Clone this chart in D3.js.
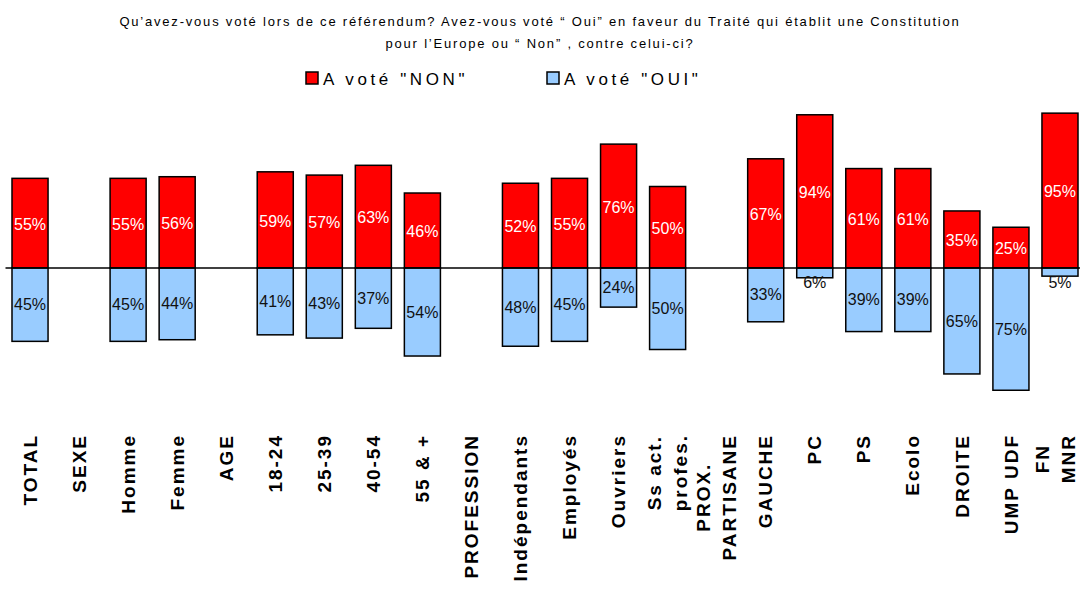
<!DOCTYPE html>
<html>
<head>
<meta charset="utf-8">
<script src="https://cdn.jsdelivr.net/npm/d3@7"></script>
<style>
  html, body { margin: 0; padding: 0; background: #fff; }
  svg { display: block; font-family: "Liberation Sans", Arial, sans-serif; }
</style>
</head>
<body>
<svg id="chart" width="1080" height="596"></svg>
<script>
// Référendum 2005 — vote NON / OUI par catégorie
const categories = ['TOTAL', 'SEXE', 'Homme', 'Femme', 'AGE', '18-24', '25-39', '40-54', '55 & +',
    'PROFESSION', 'Indépendants', 'Employés', 'Ouvriers', 'Ss act. profes.', 'PROX. PARTISANE',
    'GAUCHE', 'PC', 'PS', 'Ecolo', 'DROITE', 'UMP UDF', 'FN MNR'];
// tick labels, split where the original wraps
const tickLines = [['TOTAL'], ['SEXE'], ['Homme'], ['Femme'], ['AGE'], ['18-24'], ['25-39'], ['40-54'], ['55 & +'],
    ['PROFESSION'], ['Indépendants'], ['Employés'], ['Ouvriers'], ['Ss act.', 'profes.'], ['PROX.', 'PARTISANE'],
    ['GAUCHE'], ['PC'], ['PS'], ['Ecolo'], ['DROITE'], ['UMP UDF'], ['FN', 'MNR']];
const voteNon = [55, null, 55, 56, null, 59, 57, 63, 46, null, 52, 55, 76, 50, null, 67, 94, 61, 61, 35, 25, 95];
const voteOui = [45, null, 45, 44, null, 41, 43, 37, 54, null, 48, 45, 24, 50, null, 33, 6, 39, 39, 65, 75, 5];
const seriesNames = ['A voté "NON"', 'A voté "OUI"'];
const titleLines = [
    'Qu\u2019avez-vous voté lors de ce référendum? Avez-vous voté \u201c Oui\u201d  en faveur du Traité qui établit une Constitution',
    'pour l\u2019Europe ou \u201c Non\u201d , contre celui-ci?'
];

const RED = '#ff0000', BLUE = '#99ccff';
const W = 1080;
const svg = d3.select('#chart');

const x = d3.scaleBand()
    .domain(categories)
    .range([5.5, 1084.5])
    .paddingInner(0.265)
    .paddingOuter(0.1325);

// NON up, OUI down, shared zero line
const y = d3.scaleLinear().domain([-100, 100]).range([431, 105]);

// Title
svg.append('g').selectAll('text').data(titleLines).join('text')
    .attr('x', W / 2).attr('y', (d, i) => 26 + i * 22)
    .attr('text-anchor', 'middle')
    .style('font-size', '13px').style('letter-spacing', '1.8px')
    .text(d => d);

// Legend
const legend = svg.append('g');
const legendItems = legend.selectAll('g').data(seriesNames).join('g')
    .attr('transform', (d, i) => `translate(${306 + i * 241},72)`);
legendItems.append('rect')
    .attr('width', 12).attr('height', 12)
    .attr('fill', (d, i) => i === 0 ? RED : BLUE)
    .attr('stroke', '#000').attr('stroke-width', 1.5);
legendItems.append('text')
    .attr('x', 17).attr('y', 12.5)
    .style('font-size', '17px').style('letter-spacing', '3.6px')
    .text(d => d);

const rows = categories.map((c, i) => ({ cat: c, non: voteNon[i], oui: voteOui[i], lines: tickLines[i] }));
const withBars = rows.filter(d => d.non != null);

// NON bars
svg.append('g').selectAll('rect').data(withBars).join('rect')
    .attr('x', d => x(d.cat)).attr('width', x.bandwidth())
    .attr('y', d => y(d.non)).attr('height', d => y(0) - y(d.non))
    .attr('fill', RED).attr('stroke', '#000').attr('stroke-width', 1.5);

// OUI bars
svg.append('g').selectAll('rect').data(withBars).join('rect')
    .attr('x', d => x(d.cat)).attr('width', x.bandwidth())
    .attr('y', y(0)).attr('height', d => y(-d.oui) - y(0))
    .attr('fill', BLUE).attr('stroke', '#000').attr('stroke-width', 1.5);

// zero line
svg.append('line')
    .attr('x1', x.range()[0]).attr('x2', W)
    .attr('y1', y(0)).attr('y2', y(0))
    .attr('stroke', '#000').attr('stroke-width', 1.5);

// value labels
const labels = svg.append('g').style('font-size', '16px').attr('text-anchor', 'middle');
labels.selectAll('text.non').data(withBars).join('text')
    .attr('class', 'non')
    .attr('x', d => x(d.cat) + x.bandwidth() / 2)
    .attr('y', d => (y(d.non) + y(0)) / 2 + 1)
    .attr('dy', '0.35em')
    .attr('fill', '#fff')
    .text(d => d.non + '%');
labels.selectAll('text.oui').data(withBars).join('text')
    .attr('class', 'oui')
    .attr('x', d => x(d.cat) + x.bandwidth() / 2)
    .attr('y', d => Math.max((y(-d.oui) + y(0)) / 2, y(0) + 14))
    .attr('dy', '0.35em')
    .attr('fill', '#111')
    .text(d => d.oui + '%');

// category labels, rotated
const TICK_TOP = 434, LINE_GAP = 26;
const ticks = svg.append('g')
    .style('font-size', '19px').style('font-weight', 'bold').style('letter-spacing', '2px');
rows.forEach(d => {
    const n = d.lines.length;
    const gap = n > 1 ? LINE_GAP : 0;
    // keep the last wrapped label inside the picture
    const cx = Math.min(x(d.cat) + x.bandwidth() / 2, W - 12 - gap * (n - 1) / 2);
    const g = ticks.append('g').attr('transform', `translate(${cx},${TICK_TOP}) rotate(-90)`);
    const texts = d.lines.map((line, j) => g.append('text')
        .attr('x', 0)
        .attr('y', (j - (n - 1) / 2) * gap)
        .attr('dy', '0.35em')
        .attr('text-anchor', 'end')
        .text(line));
    if (n > 1) {
        // wrapped labels are centred on their longest line
        const maxLen = d3.max(texts, t => t.node().getComputedTextLength());
        texts.forEach(t => t.attr('text-anchor', 'middle').attr('x', -maxLen / 2));
    }
});
</script>
</body>
</html>
